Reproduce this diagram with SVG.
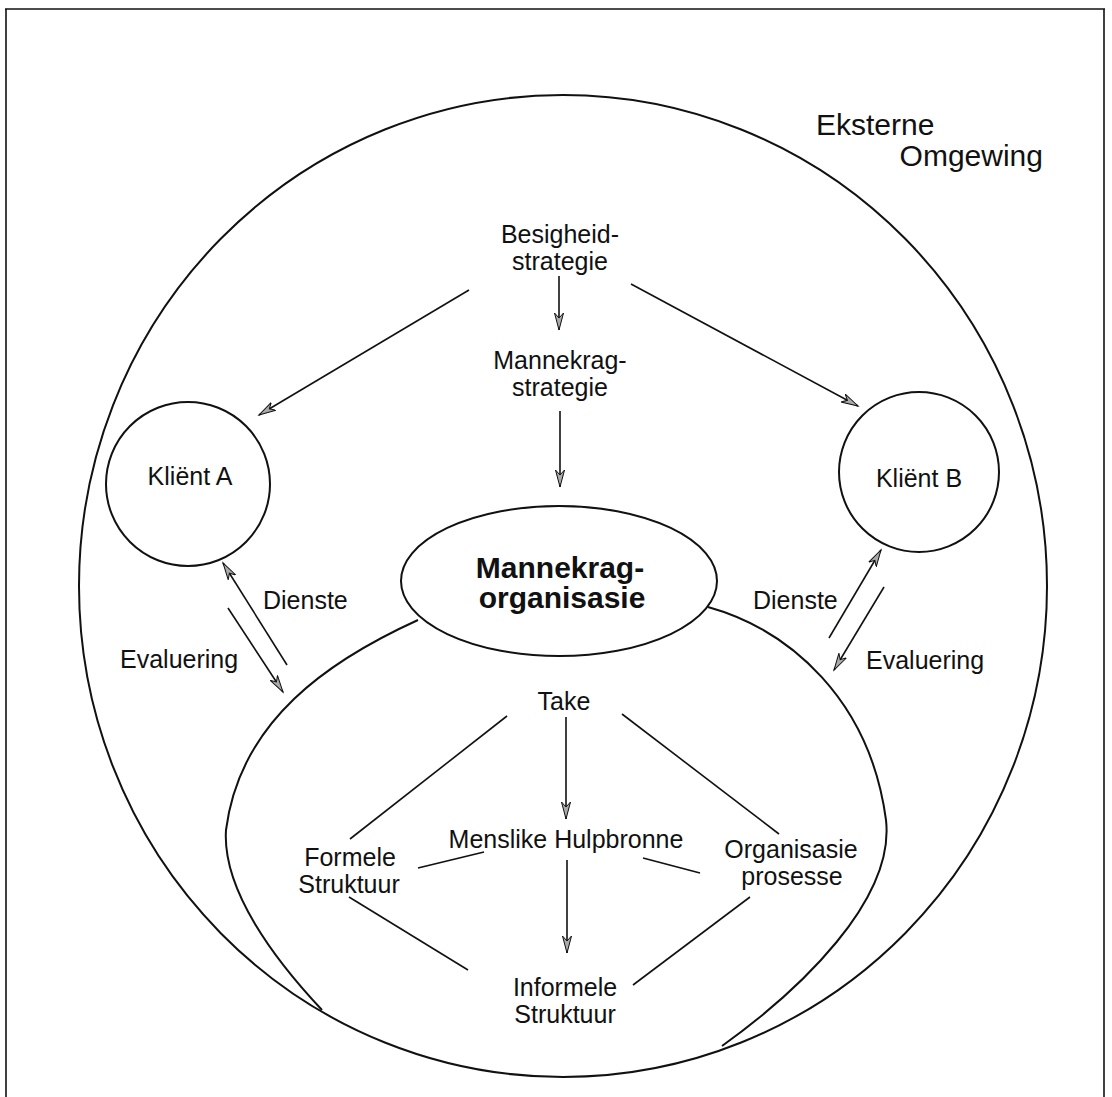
<svg xmlns="http://www.w3.org/2000/svg" width="1112" height="1097" viewBox="0 0 1112 1097">
  <style>
    .lbl { font-family: "Liberation Sans", Arial, Helvetica, sans-serif; font-size: 25px; fill: #111; }
    .big { font-size: 30px; }
    .bold { font-weight: bold; font-size: 30px; }
    .shape { fill: none; stroke: #111; stroke-width: 2; }
    .link { fill: none; stroke: #111; stroke-width: 1.6; }
    .arrow { fill: none; stroke: #111; stroke-width: 1.6; marker-end: url(#head); }
  </style>
  <defs>
    <marker id="head" markerUnits="userSpaceOnUse" markerWidth="20" markerHeight="12" refX="17" refY="5" orient="auto">
      <path d="M0,0.5 L17,5 L0,9.5 L5,5 Z" fill="#aaa" stroke="#111" stroke-width="1"/>
    </marker>
  </defs>
  <rect width="1112" height="1097" fill="#fff"/>

  <!-- frame (open at the bottom edge) -->
  <g id="frame">
    <path d="M6,1097 V9" class="link" stroke-width="1.5"/>
    <path d="M1104,1097 V9" class="link" stroke-width="1.5"/>
    <path d="M5,9 H1105" class="link" stroke-width="2.5"/>
  </g>

  <!-- external environment -->
  <g id="omgewing">
    <ellipse cx="563" cy="586" rx="484" ry="491" class="shape"/>
    <text class="lbl big" x="816" y="135">Eksterne</text>
    <text class="lbl big" x="1043" y="166" text-anchor="end">Omgewing</text>
  </g>

  <g id="besigheidstrategie">
    <text class="lbl" x="560" y="243" text-anchor="middle">Besigheid-</text>
    <text class="lbl" x="560" y="270" text-anchor="middle">strategie</text>
  </g>

  <g id="mannekragstrategie">
    <text class="lbl" x="560" y="369" text-anchor="middle">Mannekrag-</text>
    <text class="lbl" x="560" y="396" text-anchor="middle">strategie</text>
  </g>

  <g id="klient-a">
    <circle cx="188" cy="484" r="82" class="shape"/>
    <text class="lbl" x="190" y="485" text-anchor="middle">Kliënt A</text>
  </g>

  <g id="klient-b">
    <circle cx="919" cy="472" r="80" class="shape"/>
    <text class="lbl" x="919" y="487" text-anchor="middle">Kliënt B</text>
  </g>

  <g id="mannekragorganisasie">
    <ellipse cx="559" cy="581" rx="158" ry="75" class="shape"/>
    <text class="lbl bold" x="560" y="578" text-anchor="middle">Mannekrag-</text>
    <text class="lbl bold" x="562" y="608" text-anchor="middle">organisasie</text>
    <!-- the organisation body hanging below the ellipse -->
    <path d="M418,620 C330,660 240,720 226,830 C222,890 275,960 322,1010" class="shape"/>
    <path d="M708,607 C790,630 870,700 886,820 C895,900 800,990 722,1046" class="shape"/>
  </g>

  <g id="take"><text class="lbl" x="564" y="710" text-anchor="middle">Take</text></g>
  <g id="menslike-hulpbronne"><text class="lbl" x="566" y="848" text-anchor="middle">Menslike Hulpbronne</text></g>
  <g id="formele-struktuur">
    <text class="lbl" x="350" y="866" text-anchor="middle">Formele</text>
    <text class="lbl" x="349" y="893" text-anchor="middle">Struktuur</text>
  </g>
  <g id="organisasie-prosesse">
    <text class="lbl" x="791" y="858" text-anchor="middle">Organisasie</text>
    <text class="lbl" x="792" y="885" text-anchor="middle">prosesse</text>
  </g>
  <g id="informele-struktuur">
    <text class="lbl" x="565" y="996" text-anchor="middle">Informele</text>
    <text class="lbl" x="565" y="1023" text-anchor="middle">Struktuur</text>
  </g>

  <g id="side-labels">
    <text class="lbl" x="263" y="609">Dienste</text>
    <text class="lbl" x="120" y="668">Evaluering</text>
    <text class="lbl" x="753" y="609">Dienste</text>
    <text class="lbl" x="866" y="669">Evaluering</text>
  </g>

  <!-- connectors -->
  <g id="connectors">
    <path d="M559,276 V330" class="arrow"/>
    <path d="M560,411 V487" class="arrow"/>
    <path d="M469,290 L259,415" class="arrow"/>
    <path d="M631,284 L858,406" class="arrow"/>
    <path d="M287,665 L223,563" class="arrow"/>
    <path d="M228,608 L283,692" class="arrow"/>
    <path d="M829,638 L881,550" class="arrow"/>
    <path d="M884,587 L834,670" class="arrow"/>
    <path d="M507,716 L350,839" class="link"/>
    <path d="M566,717 V819" class="arrow"/>
    <path d="M622,714 L779,834" class="link"/>
    <path d="M418,868 L484,852" class="link"/>
    <path d="M643,858 L700,873" class="link"/>
    <path d="M567,860 V953" class="arrow"/>
    <path d="M349,897 L468,970" class="link"/>
    <path d="M750,897 L633,985" class="link"/>
  </g>
</svg>
